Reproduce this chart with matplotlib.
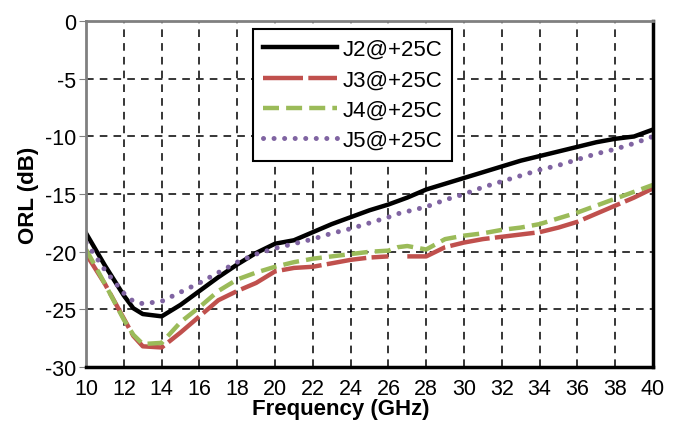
import numpy as np
import matplotlib.pyplot as plt

plt.rcParams['font.family'] = ['Liberation Sans', 'DejaVu Sans']
plt.rcParams['axes.unicode_minus'] = False

freq = [10, 11, 12, 12.5, 13, 14, 15, 16, 17, 18, 19, 20, 21, 22, 23, 24, 25,
        26, 26.5, 27, 28, 29, 30, 31, 32, 33, 34, 35, 36, 37, 38, 39, 40]

j2 = [-18.4, -21.2, -23.8, -24.9, -25.4, -25.6, -24.6, -23.4, -22.2, -21.1, -20.1, -19.3,
      -19.0, -18.3, -17.6, -17.0, -16.4, -15.9, -15.6, -15.3, -14.6, -14.1, -13.6, -13.1,
      -12.6, -12.1, -11.7, -11.3, -10.9, -10.5, -10.2, -10.0, -9.4]
j3 = [-20.2, -22.8, -25.8, -27.3, -28.2, -28.3, -27.0, -25.6, -24.2, -23.4, -22.7, -21.7,
      -21.4, -21.3, -21.0, -20.7, -20.5, -20.4, np.nan, -20.4, -20.4, -19.6, -19.2, -18.9,
      -18.7, -18.5, -18.3, -17.9, -17.4, -16.7, -16.0, -15.3, -14.5]
j4 = [-19.8, -22.8, -25.9, -27.2, -28.0, -27.9, -26.1, -24.8, -23.4, -22.4, -21.8, -21.3,
      -20.9, -20.6, -20.4, -20.2, -20.0, -19.9, -19.6, -19.5, -19.8, -18.9, -18.6, -18.4,
      -18.1, -17.9, -17.6, -17.1, -16.6, -16.0, -15.4, -14.8, -14.2]
j5 = [-19.2, -21.6, -23.6, -24.3, -24.5, -24.3, -23.5, -22.7, -21.8, -20.9, -20.2, -19.7,
      -19.3, -18.9, -18.4, -18.0, -17.5, -17.0, -16.7, -16.5, -16.1, -15.5, -15.0, -14.4,
      -13.9, -13.4, -12.9, -12.5, -12.0, -11.5, -11.1, -10.6, -10.0]

xticks = list(range(10, 41, 2))
yticks = list(range(-30, 1, 5))

fig = plt.figure(figsize=(6.78, 4.27), dpi=100)
ax = fig.add_axes([0.127, 0.138, 0.836, 0.810])

ax.plot(freq, j2, color='black', lw=3.2, label='J2@+25C')
ax.plot(freq, j3, color='#c0504d', lw=3.2, dashes=(9, 1.2), label='J3@+25C')
ax.plot(freq, j4, color='#9bbb59', lw=3.2, dashes=(3.6, 1.6), label='J4@+25C')
ax.plot(freq, j5, color='#8064a2', lw=3.6, linestyle=(0, (0.01, 2.1)),
        dash_capstyle='round', label='J5@+25C')

ax.set_xlim(10, 40)
ax.set_ylim(-30, 0)
ax.set_xticks(xticks)
ax.set_yticks(yticks)
ax.grid(True, color='black', linestyle=(0, (5, 4)), lw=1.1)

for s in ['left', 'top']:
    ax.spines[s].set_color('#808080')
    ax.spines[s].set_linewidth(2)
for s in ['bottom', 'right']:
    ax.spines[s].set_color('black')
    ax.spines[s].set_linewidth(2.5)

ax.tick_params(axis='y', length=5, color='#808080', labelsize=15.5, pad=2)
ax.tick_params(axis='x', length=0, labelsize=15.5, pad=8)

ax.set_ylabel('ORL (dB)', fontsize=16, fontweight='bold', labelpad=4)
ax.set_xlabel('Frequency (GHz)', fontsize=16, fontweight='bold')
ax.xaxis.set_label_coords(0.45, -0.09)

leg = ax.legend(loc='upper left', bbox_to_anchor=(0.295, 0.977), fontsize=16,
                frameon=True, fancybox=False, handlelength=3.3, borderpad=0.45,
                labelspacing=0.42, handletextpad=0.25, borderaxespad=0)
leg.get_frame().set_edgecolor('black')
leg.get_frame().set_linewidth(1.5)
leg.get_frame().set_alpha(1)

fig.savefig('out.png', dpi=100)
